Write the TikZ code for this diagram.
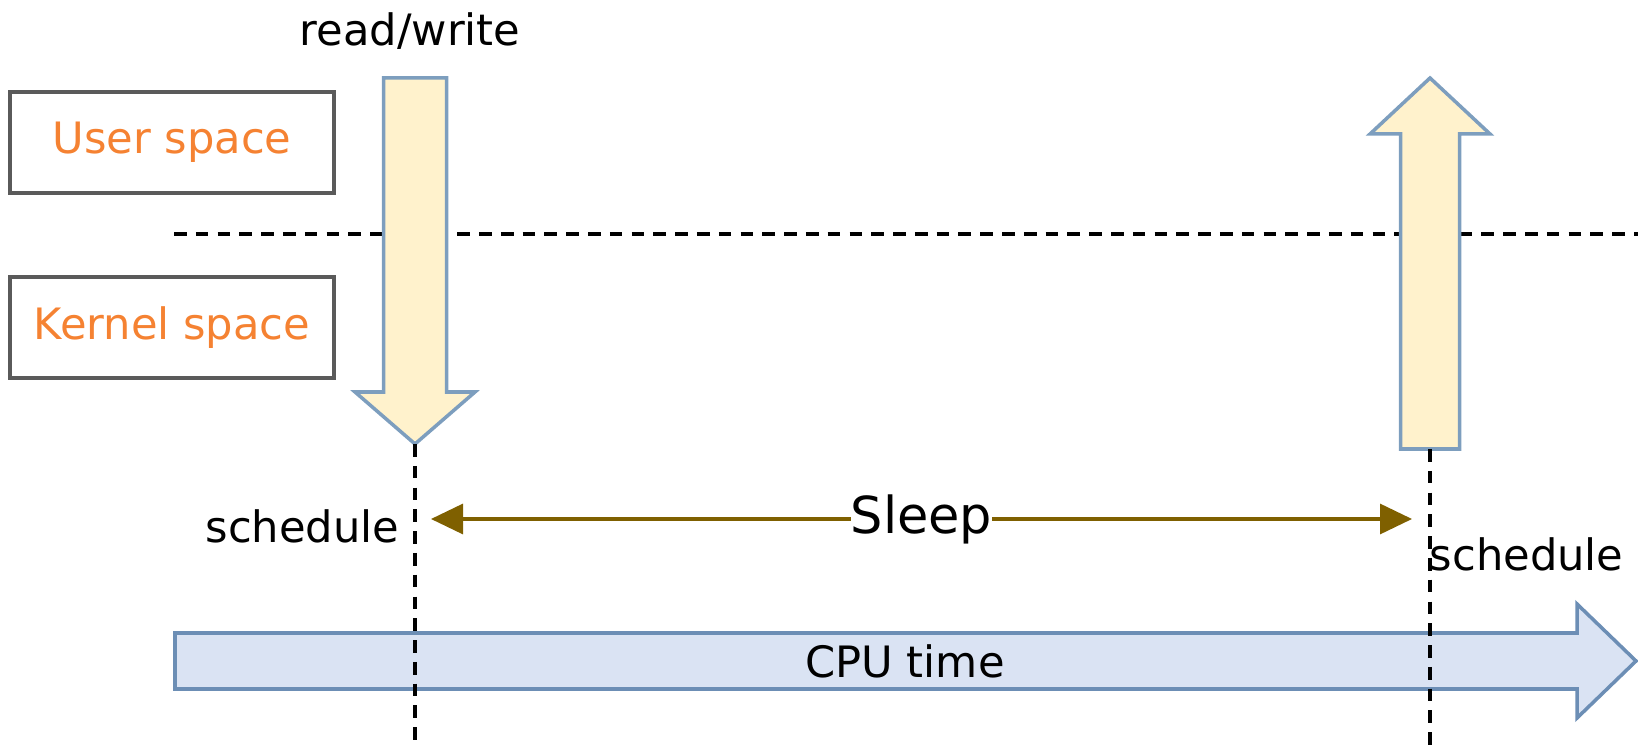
\documentclass[tikz,border=0pt]{standalone}
\usepackage{fontspec}
\setmainfont{DejaVu Sans}
\usetikzlibrary{arrows.meta, positioning, calc}
\definecolor{cOrange}{RGB}{245,130,50}
\definecolor{cSleep}{RGB}{127,96,0}
\definecolor{cYellow}{RGB}{255,242,204}
\definecolor{cYellowEdge}{RGB}{125,158,190}
\definecolor{cBlue}{RGB}{218,227,243}
\definecolor{cBlueEdge}{RGB}{108,142,181}
\definecolor{cBox}{RGB}{90,90,90}
\tikzset{
	spacebox/.style ={rectangle, draw=cBox, line width=1.2pt, minimum width=3.24cm, minimum height=1.01cm, text=cOrange, align=center},
	blockarrow/.style={line width=1pt, line join=miter},
	yellowarrow/.style={blockarrow, draw=cYellowEdge, fill=cYellow},
	bluearrow/.style={blockarrow, draw=cBlueEdge, fill=cBlue},
	border/.style   ={dash pattern=on 3.6pt off 2.6pt, line width=1.1pt},
	lbl/.style      ={inner sep=0pt},
	sleeparrow/.style={{Triangle[length=0.32cm, width=0.3cm]}-{Triangle[length=0.32cm, width=0.3cm]}, draw=cSleep, line width=0.9pt},
}
\begin{document}
\begin{tikzpicture}[x=1cm, y=1cm, font=\fontsize{12.3}{14}\selectfont]
	\useasboundingbox (0,0) rectangle (16.38,7.48);
	% user / kernel
	\node[spacebox] (user) at (1.72,6.055) {User space};
	\node[spacebox] (kernel) at (1.72,4.205) {Kernel space};
	\coordinate (sepL) at (1.74,5.14);
	\coordinate (sepR) at (16.38,5.14);
	\draw[border] (sepL) -- (sepR);
	% time axis
	\draw[bluearrow] (1.75,1.15) -- (15.77,1.15) -- (15.77,1.44) -- (16.36,0.87) -- (15.77,0.30) -- (15.77,0.59) -- (1.75,0.59) -- cycle;
	\node (cpu) at (9.05,0.87) {CPU time};
	% system call and return
	\coordinate (calltip) at (4.15,3.04);
	\coordinate (callfoot) at (4.15,0);
	\draw[yellowarrow] (3.835,6.70) -- (4.465,6.70) -- (4.465,3.56) -- (4.75,3.56) -- (calltip) -- (3.55,3.56) -- (3.835,3.56) -- cycle;
	\node[lbl, anchor=base] (rw) at (4.10,7.02) {read/write};
	\coordinate (retbase) at (14.30,2.99);
	\coordinate (retfoot) at (14.30,0);
	\draw[yellowarrow] (14.005,2.99) -- (14.595,2.99) -- (14.595,6.14) -- (14.90,6.14) -- (14.30,6.70) -- (13.70,6.14) -- (14.005,6.14) -- cycle;
	\draw[border] (calltip) -- (callfoot);
	\draw[border] (retbase) -- (retfoot);
	% sleep
	\coordinate (sleepL) at (4.31,2.29);
	\coordinate (sleepR) at (14.12,2.29);
	\draw[sleeparrow] (sleepL) -- node[fill=white, inner sep=0pt, font=\fontsize{14.5}{17}\selectfont] (sleep) {Sleep} (sleepR);
	\node[lbl, anchor=base east] (schedL) at (4.00,2.05) {schedule};
	\node[lbl, anchor=base west] (schedR) at (14.29,1.77) {schedule};
\end{tikzpicture}
\end{document}
